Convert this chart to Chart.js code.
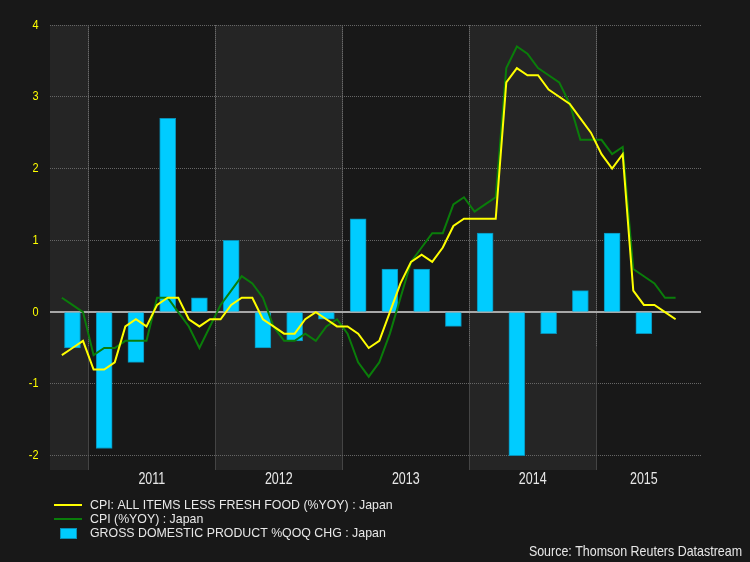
<!DOCTYPE html>
<html>
<head>
<meta charset="utf-8">
<script src="https://cdn.jsdelivr.net/npm/chart.js@4"></script>
<style>
  html, body { margin: 0; padding: 0; background: #181818; }
  #wrap { width: 750px; height: 562px; }
</style>
</head>
<body>
<div id="wrap"><canvas id="chart" width="750" height="562"></canvas></div>
<script>
// -------- Data ----------
// monthly, Oct 2010 .. Aug 2015
const months = [
  "2010-10","2010-11","2010-12",
  "2011-01","2011-02","2011-03","2011-04","2011-05","2011-06","2011-07","2011-08","2011-09","2011-10","2011-11","2011-12",
  "2012-01","2012-02","2012-03","2012-04","2012-05","2012-06","2012-07","2012-08","2012-09","2012-10","2012-11","2012-12",
  "2013-01","2013-02","2013-03","2013-04","2013-05","2013-06","2013-07","2013-08","2013-09","2013-10","2013-11","2013-12",
  "2014-01","2014-02","2014-03","2014-04","2014-05","2014-06","2014-07","2014-08","2014-09","2014-10","2014-11","2014-12",
  "2015-01","2015-02","2015-03","2015-04","2015-05","2015-06","2015-07","2015-08"
];
const coreCpi = [
  -0.6,-0.5,-0.4,
  -0.8,-0.8,-0.7,-0.2,-0.1,-0.2,0.1,0.2,0.2,-0.1,-0.2,-0.1,
  -0.1,0.1,0.2,0.2,-0.1,-0.2,-0.3,-0.3,-0.1,0.0,-0.1,-0.2,
  -0.2,-0.3,-0.5,-0.4,0.0,0.4,0.7,0.8,0.7,0.9,1.2,1.3,
  1.3,1.3,1.3,3.2,3.4,3.3,3.3,3.1,3.0,2.9,2.7,2.5,
  2.2,2.0,2.2,0.3,0.1,0.1,0.0,-0.1
];
const cpi = [
  0.2,0.1,0.0,
  -0.6,-0.5,-0.5,-0.4,-0.4,-0.4,0.2,0.2,0.0,-0.2,-0.5,-0.2,
  0.1,0.3,0.5,0.4,0.2,-0.2,-0.4,-0.4,-0.3,-0.4,-0.2,-0.1,
  -0.3,-0.7,-0.9,-0.7,-0.3,0.2,0.7,0.9,1.1,1.1,1.5,1.6,
  1.4,1.5,1.6,3.4,3.7,3.6,3.4,3.3,3.2,2.9,2.4,2.4,
  2.4,2.2,2.3,0.6,0.5,0.4,0.2,0.2
];
// quarterly GDP, plotted on the middle month of each quarter
const quarterMonths = [
  "2010-11",
  "2011-02","2011-05","2011-08","2011-11",
  "2012-02","2012-05","2012-08","2012-11",
  "2013-02","2013-05","2013-08","2013-11",
  "2014-02","2014-05","2014-08","2014-11",
  "2015-02","2015-05"
];
const gdp = [
  -0.5,
  -1.9,-0.7,2.7,0.2,
  1.0,-0.5,-0.4,-0.1,
  1.3,0.6,0.6,-0.2,
  1.1,-2.0,-0.3,0.3,
  1.1,-0.3
];
const years = [2010, 2011, 2012, 2013, 2014, 2015];
const yTicks = [-2, -1, 0, 1, 2, 3, 4];

const legendLabels = [
  "CPI: ALL ITEMS LESS FRESH FOOD (%YOY) : Japan",
  "CPI (%YOY) : Japan",
  "GROSS DOMESTIC PRODUCT %QOQ CHG : Japan"
];
const sourceText = "Source: Thomson Reuters Datastream";

// -------- Helpers ----------
// x value = months since 1 Jan 2011, monthly points sit mid-month
function monthX(ym) {
  const [y, m] = ym.split("-").map(Number);
  return (y - 2011) * 12 + (m - 1) + 0.5;
}
const pts = (labels, vals) => labels.map((l, i) => ({ x: monthX(l), y: vals[i] }));

const COL = {
  bg: "#181818",
  band: "#252525",
  grid: "#666666",
  zero: "#a8a8a8",
  yellow: "#ffff00",
  green: "#0a7d0a",
  cyan: "#00ccff",
  text: "#e8e8e8"
};

function narrowText(ctx, text, x, y, size, sx, color, align) {
  ctx.save();
  ctx.font = `${size}px "Liberation Sans", Arial, sans-serif`;
  ctx.fillStyle = color;
  ctx.textBaseline = "middle";
  ctx.textAlign = "left";
  const w = ctx.measureText(text).width * sx;
  const left = align === "right" ? x - w : align === "center" ? x - w / 2 : x;
  ctx.translate(left, y);
  ctx.scale(sx, 1);
  ctx.fillText(text, 0, 0);
  ctx.restore();
}

// axis end used for the last year label (end of Sep 2015)
const axisEnd = 57;

const decor = {
  id: "decor",
  beforeDraw(chart) {
    const { ctx, chartArea: a, scales: { x } } = chart;
    ctx.save();
    ctx.fillStyle = COL.bg;
    ctx.fillRect(0, 0, chart.width, chart.height);
    // alternate year bands
    years.forEach((yr, i) => {
      if (i % 2 !== 0) return;
      const s = Math.max(x.getPixelForValue((yr - 2011) * 12), a.left);
      const e = Math.min(x.getPixelForValue((yr - 2010) * 12), a.right);
      ctx.fillStyle = COL.band;
      ctx.fillRect(s, a.top, e - s, a.bottom - a.top);
    });
    // year dividers
    years.forEach(yr => {
      const px = Math.round(x.getPixelForValue((yr - 2011) * 12)) + 0.5;
      if (px <= a.left || px >= a.right) return;
      ctx.strokeStyle = "#444444";
      ctx.lineWidth = 1;
      ctx.setLineDash([]);
      ctx.beginPath(); ctx.moveTo(px, a.top); ctx.lineTo(px, a.bottom); ctx.stroke();
      ctx.strokeStyle = "#6a6a6a";
      ctx.setLineDash([1, 1]);
      ctx.beginPath(); ctx.moveTo(px, a.top); ctx.lineTo(px, 347); ctx.stroke();
    });
    ctx.restore();
  },
  beforeDatasetsDraw(chart) {
    const { ctx, chartArea: a, scales: { y } } = chart;
    const py = Math.round(y.getPixelForValue(0));
    ctx.save();
    ctx.strokeStyle = COL.zero;
    ctx.lineWidth = 2;
    ctx.beginPath(); ctx.moveTo(a.left, py); ctx.lineTo(a.right, py); ctx.stroke();
    ctx.restore();
  },
  afterDraw(chart) {
    const { ctx, chartArea: a, scales: { x, y } } = chart;
    // y tick labels
    yTicks.forEach(v => {
      narrowText(ctx, String(v), 38.5, y.getPixelForValue(v), 13, 0.84, COL.yellow, "right");
    });
    // year labels, centred in each visible year
    years.forEach(yr => {
      const s = (yr - 2011) * 12;
      const e = Math.min(s + 12, axisEnd);
      if (s < x.min) return;
      narrowText(ctx, String(yr), x.getPixelForValue((s + e) / 2), 480, 16, 0.78, COL.text, "center");
    });
    // legend
    const rows = [505, 519, 533];
    ctx.save();
    ctx.lineWidth = 2;
    ctx.strokeStyle = COL.yellow;
    ctx.beginPath(); ctx.moveTo(54, rows[0]); ctx.lineTo(82, rows[0]); ctx.stroke();
    ctx.strokeStyle = COL.green;
    ctx.beginPath(); ctx.moveTo(54, rows[1]); ctx.lineTo(82, rows[1]); ctx.stroke();
    ctx.fillStyle = COL.cyan;
    ctx.fillRect(60, 528, 17, 11);
    ctx.strokeStyle = "#0a8fb5";
    ctx.lineWidth = 1;
    ctx.strokeRect(60.5, 528.5, 16, 10);
    ctx.restore();
    legendLabels.forEach((t, i) => narrowText(ctx, t, 90, rows[i], 13, 0.95, COL.text, "left"));
    narrowText(ctx, sourceText, 742, 552, 15, 0.83, COL.text, "right");
  }
};

// -------- Chart ----------
const chart = new Chart(document.getElementById("chart"), {
  type: "bar",
  data: {
    datasets: [
      {
        type: "line", label: legendLabels[0], data: pts(months, coreCpi),
        borderColor: COL.yellow, borderWidth: 2, pointRadius: 0, tension: 0, order: 0
      },
      {
        type: "line", label: legendLabels[1], data: pts(months, cpi),
        borderColor: COL.green, borderWidth: 2, pointRadius: 0, tension: 0, order: 1
      },
      {
        type: "bar", label: legendLabels[2], data: pts(quarterMonths, gdp),
        backgroundColor: COL.cyan, borderColor: "#0a8fb5", borderWidth: 1,
        barThickness: 16, order: 2
      }
    ]
  },
  options: {
    responsive: false,
    animation: false,
    layout: { padding: { left: 50, top: 25, right: 49, bottom: 92 } },
    plugins: { legend: { display: false }, tooltip: { enabled: false } },
    scales: {
      x: { type: "linear", min: -3.62, max: 57.9, offset: false, display: false },
      y: {
        type: "linear", min: -2.2, max: 4,
        ticks: { display: false, stepSize: 1, includeBounds: false },
        grid: {
          drawTicks: false,
          color: c => c.tick && c.tick.value === 0 ? "rgba(0,0,0,0)" : COL.grid,
          lineWidth: 1
        },
        border: { display: false, dash: [1, 1] }
      }
    }
  },
  plugins: [decor]
});
</script>
</body>
</html>
